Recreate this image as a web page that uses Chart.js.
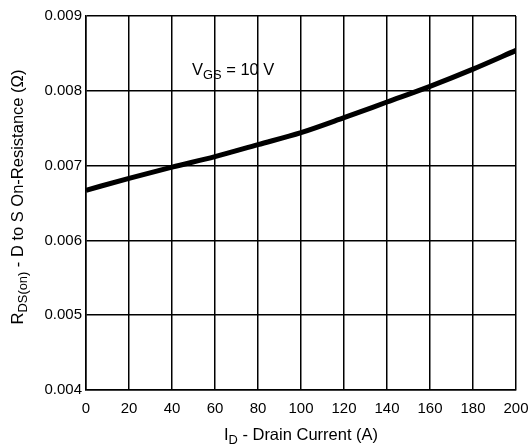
<!DOCTYPE html>
<html>
<head>
<meta charset="utf-8">
<script src="https://cdn.jsdelivr.net/npm/chart.js"></script>
<style>
  body { margin: 0; background: #fff; }
  #wrap { width: 529px; height: 446px; }
</style>
</head>
<body>
<div id="wrap"><canvas id="chart" width="529" height="446"></canvas></div>
<script>
// drain current (A) vs on-resistance (ohm)
const current = [0, 20, 40, 60, 80, 100, 120, 140, 160, 180, 200];
const resistance = [0.00667, 0.00683, 0.00698, 0.00712, 0.00728, 0.00744, 0.00764, 0.00785, 0.00806, 0.00829, 0.00854];
const yTicks = [0.004, 0.005, 0.006, 0.007, 0.008, 0.009];

const FONT = 'Liberation Sans, Arial, sans-serif';

// text with a subscript part, drawn piece by piece
function drawParts(ctx, parts, x, y, size) {
  let cx = x;
  parts.forEach(p => {
    const s = p.sub ? size * 0.78 : size;
    ctx.font = s + 'px ' + FONT;
    ctx.fillText(p.t, cx, y + (p.sub ? size * 0.22 : 0));
    cx += ctx.measureText(p.t).width;
  });
  return cx - x;
}
function partsWidth(ctx, parts, size) {
  let w = 0;
  parts.forEach(p => {
    ctx.font = (p.sub ? size * 0.78 : size) + 'px ' + FONT;
    w += ctx.measureText(p.t).width;
  });
  return w;
}

const labels = {
  id: 'labels',
  afterDraw(chart) {
    const ctx = chart.ctx;
    const a = chart.chartArea;
    const xs = chart.scales.x;
    ctx.save();
    ctx.fillStyle = '#000';
    ctx.textBaseline = 'alphabetic';
    ctx.textAlign = 'left';

    // x title
    const xt = [{t: 'I'}, {t: 'D', sub: true}, {t: ' - Drain Current (A)'}];
    const xw = partsWidth(ctx, xt, 16.5);
    drawParts(ctx, xt, (a.left + a.right) / 2 - xw / 2, 440, 16.5);

    // y title, rotated
    const yt = [{t: 'R'}, {t: 'DS(on)', sub: true}, {t: ' - D to S On-Resistance (\u03A9)'}];
    const yw = partsWidth(ctx, yt, 16.5);
    ctx.translate(23, (a.top + a.bottom) / 2 - 6);
    ctx.rotate(-Math.PI / 2);
    drawParts(ctx, yt, -yw / 2, 0, 16.5);
    ctx.setTransform(1, 0, 0, 1, 0, 0);

    // condition label
    drawParts(ctx, [{t: 'V'}, {t: 'GS', sub: true}, {t: ' = 10 V'}], xs.getPixelForValue(49.3), 75, 16.5);
    ctx.restore();
  }
};

new Chart(document.getElementById('chart'), {
  type: 'line',
  data: {
    labels: current,
    datasets: [{
      data: current.map((c, i) => ({x: c, y: resistance[i]})),
      borderColor: '#000',
      borderWidth: 5,
      pointRadius: 0,
      cubicInterpolationMode: 'monotone',
      fill: false
    }]
  },
  options: {
    responsive: false,
    animation: false,
    layout: { padding: { top: 16, right: 13, left: 0, bottom: 0 } },
    plugins: { legend: { display: false }, tooltip: { enabled: false } },
    scales: {
      x: {
        type: 'linear',
        min: 0, max: 200,
        afterFit(s) { s.height = 56; s.paddingLeft = 0; s.paddingRight = 0; },
        afterBuildTicks(s) { s.ticks = current.map(v => ({value: v})); },
        grid: { color: '#000', lineWidth: 1.5, drawTicks: false },
        border: { color: '#000', width: 1.5 },
        ticks: { color: '#000', font: { family: FONT, size: 15 }, padding: 10, maxRotation: 0 }
      },
      y: {
        min: 0.004, max: 0.009,
        afterFit(s) { s.width = 86; s.paddingTop = 0; s.paddingBottom = 0; },
        afterBuildTicks(s) { s.ticks = yTicks.map(v => ({value: v})); },
        grid: { color: '#000', lineWidth: 1.5, drawTicks: false },
        border: { color: '#000', width: 1.5 },
        ticks: { color: '#000', font: { family: FONT, size: 15 }, padding: 4,
          callback: v => v.toFixed(3) }
      }
    }
  },
  plugins: [labels]
});
</script>
</body>
</html>
